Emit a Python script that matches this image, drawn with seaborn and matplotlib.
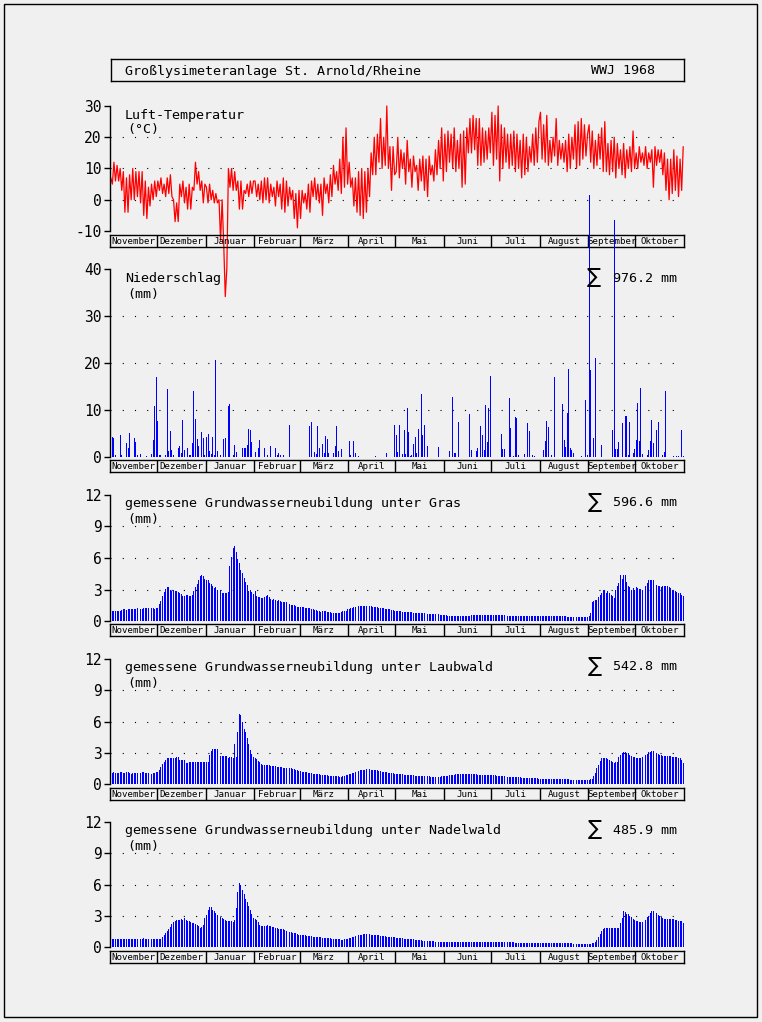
import numpy as np
import matplotlib.pyplot as plt
import seaborn as sns
from matplotlib.patches import Rectangle

# ---- data (Wasserwirtschaftsjahr Nov 1967 - Okt 1968, daily) ----
month_names = ["November", "Dezember", "Januar", "Februar", "März", "April",
               "Mai", "Juni", "Juli", "August", "September", "Oktober"]
month_len = [30, 31, 31, 29, 31, 30, 31, 30, 31, 31, 30, 31]

temp_c = [
    7, 5, 12, 6, 11, 6, 10, 3, 9, -4, 7, -4, 8, 0, 10, 0, 9, 1, 9, -1, 9, -5, 6, -6, 4, -2, 5, 0, 6, 1,
    6, 3, 7, 2, 5, 1, 7, 2, 8, 1, 0, -7, -1, -7, 5, 1, 6, -1, 4, -3, 5, -3, 4, 3, 12, 5, 9, 3, 6, -1, 5,
    4, -1, 5, 0, 3, -1, 2, -1, 0, -13, 0, -14, -31, -22, 10, 4, 10, 3, 9, 3, 6, -3, 6, -3, 3, 2, 5, 1, 6, 2, 6,
    6, 1, 5, 0, 6, -1, 7, 0, 7, -1, 5, 1, 4, -2, 6, 1, 5, -3, 7, -4, 6, -2, 4, 0, 3, -6, 2, -9, 3,
    -6, 3, -1, 2, -3, 5, -4, 6, 1, 7, 0, 5, -1, 5, -5, 7, 2, 5, -1, 8, 1, 11, 5, 9, 3, 13, 2, 20, 4, 23, 5,
    12, 4, 7, -2, 7, -4, 9, -5, 10, -6, 9, -4, 10, 1, 15, 8, 20, 8, 21, 12, 26, 10, 20, 11, 30, 10, 17, 3, 17, 8,
    9, 20, 7, 16, 10, 15, 5, 19, 9, 13, 4, 14, 9, 11, 3, 13, 6, 14, 3, 13, 1, 14, 8, 11, 6, 16, 8, 19, 10, 23, 6,
    21, 9, 22, 12, 21, 10, 23, 9, 19, 10, 21, 4, 22, 5, 23, 15, 26, 15, 27, 16, 26, 11, 26, 11, 23, 12, 22, 13, 23, 15,
    28, 11, 27, 13, 30, 6, 24, 10, 23, 12, 21, 10, 21, 11, 22, 9, 21, 10, 19, 7, 21, 8, 20, 9, 17, 12, 21, 11, 23, 12, 25,
    28, 13, 24, 12, 27, 11, 19, 12, 20, 14, 26, 11, 19, 13, 18, 12, 19, 9, 21, 10, 20, 13, 24, 10, 25, 11, 26, 13, 24, 14, 21,
    24, 12, 22, 10, 19, 11, 21, 13, 23, 9, 25, 9, 18, 8, 19, 9, 20, 7, 18, 10, 16, 8, 18, 7, 16, 10, 17, 9, 22, 10,
    15, 10, 17, 12, 15, 11, 17, 10, 15, 12, 16, 4, 17, 11, 16, 12, 16, 8, 15, 3, 13, 0, 13, 2, 16, 3, 14, 1, 13, 3, 17,
]

rain_day = [1, 2, 3, 6, 7, 10, 11, 12, 15, 16, 17, 19, 23, 26, 27, 28, 29, 30, 31, 32,
            35, 36, 37, 38, 39, 40, 43, 44, 45, 46, 47, 49, 50, 51, 52, 53, 54, 55, 56, 58,
            59, 60, 61, 62, 63, 64, 65, 66, 67, 68, 70, 72, 73, 75, 76, 78, 79, 80, 84, 85,
            86, 87, 88, 89, 90, 92, 94, 95, 98, 100, 102, 105, 106, 107, 108, 110, 114, 127, 128, 130,
            131, 132, 133, 135, 136, 137, 138, 139, 142, 143, 144, 145, 147, 152, 153, 155, 156, 158, 169, 176,
            181, 182, 183, 184, 186, 187, 188, 189, 190, 191, 192, 193, 194, 195, 196, 198, 199, 200, 201, 202,
            209, 216, 218, 219, 220, 222, 229, 230, 233, 234, 236, 237, 238, 239, 240, 241, 242, 249, 250, 251,
            252, 254, 255, 257, 258, 259, 260, 264, 266, 267, 269, 270, 276, 277, 278, 279, 281, 283, 288, 289,
            290, 291, 292, 293, 294, 295, 300, 303, 304, 305, 306, 308, 309, 313, 320, 321, 322, 323, 324, 326,
            328, 329, 330, 331, 333, 334, 335, 336, 337, 338, 339, 340, 342, 343, 344, 345, 346, 347, 348, 349,
            352, 353, 354, 359, 361, 362, 364, 365]
rain_mm = [4.3, 4.1, 0.4, 4.6, 0.4, 3.0, 1.9, 5.0, 4.0, 3.2, 0.4, 0.6, 0.3, 0.6, 3.6, 10.8, 17.1, 7.6, 0.4, 0.4,
           0.5, 14.5, 1.2, 5.5, 1.4, 0.4, 2.0, 2.3, 0.9, 7.8, 1.4, 1.9, 0.4, 0.4, 3.0, 14.0, 8.0, 3.8, 2.3, 5.3,
           4.0, 0.4, 4.3, 4.9, 1.2, 0.7, 4.3, 0.4, 20.6, 1.2, 0.4, 3.8, 4.0, 10.9, 11.2, 0.4, 2.5, 1.0, 1.9, 1.9,
           1.9, 2.5, 6.0, 5.7, 3.2, 1.0, 1.9, 3.6, 2.0, 0.4, 2.3, 2.0, 0.4, 0.8, 0.4, 0.4, 6.8, 6.6, 7.4, 1.0,
           0.7, 6.6, 1.9, 2.8, 0.9, 4.5, 3.8, 0.9, 0.9, 2.3, 6.6, 1.2, 1.7, 3.3, 0.4, 3.3, 0.9, 0.2, 0.2, 0.9,
           6.8, 4.6, 1.1, 6.8, 0.6, 5.7, 0.6, 10.5, 5.3, 0.2, 0.4, 2.7, 4.3, 0.9, 5.9, 13.4, 4.6, 6.8, 3.3, 2.3,
           2.1, 1.2, 12.8, 0.9, 0.9, 7.4, 9.1, 1.4, 1.2, 1.9, 6.5, 4.6, 1.4, 11.0, 3.2, 10.5, 17.2, 4.8, 1.7, 1.7,
           2.1, 12.5, 6.1, 0.2, 8.5, 8.3, 0.4, 0.6, 7.2, 5.5, 0.4, 0.2, 1.4, 3.3, 7.6, 6.3, 0.4, 17.0, 11.2, 3.6,
           2.1, 9.3, 18.7, 1.9, 1.4, 0.9, 0.2, 12.1, 0.4, 55.7, 18.5, 4.1, 21.1, 2.5, 5.7, 50.4, 1.8, 1.8, 3.2, 7.2,
           8.8, 8.8, 0.4, 7.4, 0.9, 1.8, 3.6, 11.5, 3.3, 14.7, 0.7, 0.6, 0.4, 1.4, 3.3, 7.8, 3.0, 2.5, 5.7, 7.5,
           0.4, 1.1, 14.0, 0.2, 0.2, 0.2, 5.7, 0.2]

gw_gras = [
    0.9, 0.95, 0.95, 1.0, 0.95, 0.95, 1.0, 1.05, 1.1, 1.1, 1.05, 1.1, 1.1, 1.15, 1.1, 1.1, 1.15, 1.2, 1.15, 1.1,
    1.15, 1.2, 1.2, 1.2, 1.2, 1.2, 1.2, 1.2, 1.15, 1.2,
    1.2, 1.6, 1.9, 2.4, 2.8, 3.05, 3.25, 3.25, 3.0, 2.9, 3.0, 2.9, 2.9, 2.8, 2.65, 2.6, 2.4, 2.4, 2.5, 2.5,
    2.4, 2.4, 2.5, 2.9, 3.2, 3.5, 3.9, 4.3, 4.35, 4.3, 4.0,
    3.95, 3.9, 3.65, 3.5, 3.3, 3.1, 3.2, 3.0, 2.8, 3.0, 2.65, 2.65, 2.7, 2.7, 2.75, 5.2, 6.1, 7.0, 7.1, 6.6,
    5.9, 5.55, 4.85, 4.6, 4.1, 3.75, 3.45, 2.9, 3.0, 2.8, 2.6,
    2.85, 2.4, 2.3, 2.25, 2.2, 2.2, 2.25, 2.35, 2.5, 2.25, 2.1, 2.0, 2.05, 2.0, 1.95, 2.0, 1.95, 1.8, 1.8, 1.85,
    1.8, 1.65, 1.65, 1.55, 1.55, 1.5, 1.4, 1.35, 1.35,
    1.35, 1.3, 1.3, 1.25, 1.25, 1.2, 1.2, 1.15, 1.1, 1.05, 1.05, 1.0, 0.95, 0.9, 0.95, 0.95, 0.95, 0.9, 0.85, 0.85,
    0.8, 0.8, 0.8, 0.8, 0.8, 0.8, 0.85, 0.95, 1.0, 1.0, 1.1,
    1.15, 1.2, 1.25, 1.3, 1.3, 1.35, 1.4, 1.4, 1.45, 1.45, 1.45, 1.45, 1.4, 1.4, 1.4, 1.35, 1.35, 1.3, 1.3, 1.25,
    1.25, 1.2, 1.2, 1.15, 1.15, 1.1, 1.1, 1.05, 1.05, 1.0,
    1.0, 0.95, 0.95, 0.95, 0.9, 0.9, 0.9, 0.85, 0.85, 0.85, 0.85, 0.8, 0.8, 0.8, 0.8, 0.75, 0.75, 0.75, 0.75, 0.7,
    0.7, 0.7, 0.7, 0.7, 0.65, 0.65, 0.65, 0.65, 0.6, 0.6, 0.6,
    0.55, 0.55, 0.5, 0.5, 0.5, 0.5, 0.5, 0.5, 0.5, 0.5, 0.5, 0.5, 0.5, 0.5, 0.5, 0.5, 0.5, 0.55, 0.6, 0.6,
    0.6, 0.6, 0.6, 0.6, 0.55, 0.55, 0.55, 0.55, 0.55, 0.55,
    0.55, 0.55, 0.55, 0.55, 0.55, 0.55, 0.55, 0.55, 0.55, 0.55, 0.5, 0.5, 0.5, 0.5, 0.5, 0.5, 0.5, 0.5, 0.5, 0.5,
    0.5, 0.5, 0.5, 0.5, 0.5, 0.5, 0.5, 0.5, 0.5, 0.5, 0.5,
    0.5, 0.5, 0.5, 0.5, 0.5, 0.45, 0.45, 0.45, 0.45, 0.45, 0.45, 0.45, 0.45, 0.45, 0.45, 0.45, 0.45, 0.4, 0.4, 0.4,
    0.4, 0.4, 0.4, 0.4, 0.4, 0.4, 0.4, 0.35, 0.35, 0.35, 0.35,
    0.5, 0.8, 1.8, 1.9, 2.0, 2.0, 2.25, 2.5, 2.65, 3.0, 3.0, 2.65, 2.85, 2.65, 2.5, 2.4, 2.2, 3.0, 3.3, 3.6,
    4.35, 4.0, 4.4, 4.35, 3.75, 3.3, 3.2, 3.0, 3.1, 3.0,
    3.2, 3.1, 3.05, 3.05, 3.0, 3.05, 3.3, 3.6, 3.9, 3.95, 3.9, 3.95, 3.75, 3.45, 3.35, 3.3, 3.2, 3.3, 3.3, 3.3,
    3.3, 3.2, 3.1, 3.0, 2.85, 2.85, 2.8, 2.65, 2.7, 2.5, 2.35,
]

gw_laub = [
    1.05, 1.1, 1.15, 1.1, 1.1, 1.1, 1.15, 1.15, 1.1, 1.1, 1.15, 1.15, 1.1, 1.0, 1.05, 1.1, 1.1, 1.05, 1.1, 1.1,
    1.15, 1.15, 1.1, 1.1, 1.05, 1.05, 1.0, 1.05, 1.1, 1.2,
    1.2, 1.35, 1.6, 1.9, 2.15, 2.35, 2.45, 2.45, 2.5, 2.45, 2.45, 2.45, 2.55, 2.6, 2.3, 2.3, 2.3, 2.3, 2.05, 2.05,
    2.1, 2.15, 2.15, 2.15, 2.15, 2.15, 2.15, 2.15, 2.15, 2.15, 2.15,
    2.15, 2.15, 2.8, 3.2, 3.35, 3.4, 3.4, 3.4, 3.05, 2.7, 2.7, 2.65, 2.65, 2.7, 2.45, 2.55, 2.55, 2.5, 3.85, 2.55,
    4.95, 6.75, 6.65, 5.95, 5.3, 4.95, 4.4, 3.85, 3.3, 2.9, 2.55,
    2.45, 2.4, 2.25, 2.1, 1.95, 1.85, 1.8, 1.8, 1.8, 1.8, 1.75, 1.75, 1.7, 1.7, 1.65, 1.6, 1.65, 1.6, 1.55, 1.55,
    1.5, 1.5, 1.5, 1.5, 1.45, 1.4, 1.3, 1.3, 1.25,
    1.25, 1.2, 1.2, 1.15, 1.15, 1.1, 1.05, 1.05, 1.0, 1.0, 0.95, 0.95, 0.95, 0.9, 0.9, 0.9, 0.85, 0.85, 0.8, 0.8,
    0.8, 0.75, 0.75, 0.75, 0.75, 0.7, 0.7, 0.75, 0.8, 0.85, 0.9,
    0.95, 1.0, 1.05, 1.1, 1.15, 1.2, 1.25, 1.3, 1.3, 1.35, 1.35, 1.4, 1.4, 1.4, 1.35, 1.35, 1.3, 1.3, 1.3, 1.25,
    1.25, 1.2, 1.2, 1.15, 1.15, 1.1, 1.1, 1.05, 1.05, 1.0,
    1.0, 1.0, 0.95, 0.95, 0.95, 0.9, 0.9, 0.9, 0.85, 0.85, 0.85, 0.85, 0.8, 0.8, 0.8, 0.8, 0.75, 0.75, 0.75, 0.75,
    0.75, 0.75, 0.7, 0.7, 0.7, 0.7, 0.7, 0.7, 0.7, 0.75, 0.75,
    0.75, 0.8, 0.8, 0.85, 0.85, 0.9, 0.9, 0.95, 0.95, 1.0, 1.0, 1.0, 1.0, 1.0, 1.0, 1.0, 0.95, 0.95, 0.95, 0.95,
    0.95, 0.9, 0.9, 0.9, 0.9, 0.9, 0.9, 0.85, 0.85, 0.85,
    0.85, 0.85, 0.85, 0.8, 0.8, 0.8, 0.8, 0.75, 0.75, 0.75, 0.7, 0.7, 0.7, 0.65, 0.7, 0.7, 0.65, 0.65, 0.65, 0.6,
    0.6, 0.6, 0.6, 0.55, 0.55, 0.55, 0.55, 0.55, 0.55, 0.55, 0.5,
    0.5, 0.5, 0.5, 0.5, 0.5, 0.5, 0.5, 0.5, 0.5, 0.45, 0.45, 0.45, 0.45, 0.45, 0.45, 0.45, 0.45, 0.45, 0.45, 0.35,
    0.35, 0.35, 0.35, 0.35, 0.35, 0.35, 0.35, 0.35, 0.35, 0.35, 0.4,
    0.4, 0.45, 0.5, 0.8, 1.1, 1.5, 1.8, 2.2, 2.5, 2.5, 2.45, 2.45, 2.4, 2.3, 2.2, 2.1, 2.05, 2.1, 2.15, 2.6,
    2.8, 3.0, 3.1, 3.05, 3.0, 2.95, 2.8, 2.65, 2.6, 2.55,
    2.5, 2.45, 2.45, 2.5, 2.55, 2.6, 2.8, 2.9, 3.05, 3.1, 3.2, 3.15, 3.05, 3.0, 2.9, 2.8, 2.75, 2.7, 2.7, 2.65,
    2.7, 2.65, 2.65, 2.6, 2.6, 2.6, 2.55, 2.5, 2.45, 2.3, 2.05,
]

gw_nadel = [
    0.75, 0.75, 0.75, 0.75, 0.8, 0.8, 0.75, 0.8, 0.8, 0.8, 0.8, 0.8, 0.8, 0.75, 0.8, 0.8, 0.8, 0.75, 0.8, 0.8,
    0.75, 0.85, 0.8, 0.8, 0.8, 0.75, 0.75, 0.8, 0.75, 0.75,
    0.8, 0.8, 0.8, 1.0, 1.15, 1.3, 1.5, 1.7, 1.9, 2.2, 2.4, 2.5, 2.55, 2.55, 2.6, 2.65, 2.55, 2.75, 2.55, 2.5,
    2.45, 2.4, 2.35, 2.3, 2.25, 2.1, 2.0, 1.85, 1.95, 2.15, 2.75,
    3.1, 3.6, 3.85, 3.8, 3.6, 3.45, 3.3, 3.1, 3.0, 2.85, 2.8, 2.65, 2.55, 2.5, 2.5, 2.5, 2.45, 2.4, 2.55, 3.7,
    5.3, 6.1, 5.95, 5.45, 5.1, 4.6, 4.35, 3.95, 3.6, 3.2, 2.8,
    2.65, 2.55, 2.4, 2.15, 2.0, 2.0, 2.05, 2.0, 2.1, 2.05, 2.0, 1.95, 1.9, 1.85, 1.8, 1.75, 1.75, 1.7, 1.7, 1.6,
    1.55, 1.5, 1.45, 1.4, 1.35, 1.35, 1.3, 1.25, 1.2,
    1.2, 1.2, 1.15, 1.15, 1.1, 1.1, 1.05, 1.05, 1.0, 1.0, 1.0, 0.95, 0.95, 0.95, 0.9, 0.9, 0.9, 0.85, 0.85, 0.85,
    0.8, 0.8, 0.8, 0.75, 0.75, 0.75, 0.7, 0.7, 0.75, 0.75, 0.8,
    0.85, 0.9, 0.95, 1.0, 1.05, 1.1, 1.15, 1.2, 1.2, 1.25, 1.25, 1.25, 1.25, 1.25, 1.2, 1.2, 1.2, 1.15, 1.15, 1.15,
    1.1, 1.1, 1.05, 1.05, 1.0, 1.0, 1.0, 0.95, 0.95, 0.95,
    0.9, 0.9, 0.85, 0.85, 0.85, 0.8, 0.8, 0.8, 0.75, 0.75, 0.75, 0.75, 0.7, 0.7, 0.7, 0.65, 0.65, 0.6, 0.6, 0.6,
    0.6, 0.55, 0.55, 0.55, 0.55, 0.5, 0.5, 0.5, 0.5, 0.5, 0.5,
    0.5, 0.5, 0.45, 0.45, 0.45, 0.45, 0.45, 0.45, 0.45, 0.45, 0.45, 0.45, 0.45, 0.45, 0.45, 0.45, 0.45, 0.45, 0.45, 0.45,
    0.45, 0.45, 0.45, 0.45, 0.45, 0.45, 0.45, 0.45, 0.45, 0.45,
    0.45, 0.45, 0.45, 0.45, 0.45, 0.45, 0.45, 0.45, 0.45, 0.45, 0.45, 0.45, 0.45, 0.45, 0.45, 0.4, 0.4, 0.4, 0.4, 0.4,
    0.4, 0.4, 0.4, 0.4, 0.4, 0.4, 0.4, 0.4, 0.4, 0.4, 0.4,
    0.4, 0.4, 0.4, 0.4, 0.4, 0.4, 0.4, 0.4, 0.4, 0.4, 0.35, 0.35, 0.35, 0.35, 0.35, 0.35, 0.35, 0.35, 0.35, 0.35,
    0.35, 0.3, 0.3, 0.3, 0.3, 0.3, 0.3, 0.3, 0.3, 0.3, 0.3,
    0.3, 0.3, 0.35, 0.35, 0.45, 0.65, 0.95, 1.25, 1.55, 1.75, 1.85, 1.85, 1.85, 1.85, 1.8, 1.8, 1.8, 1.8, 1.8, 1.85,
    2.3, 2.75, 3.5, 3.35, 3.2, 3.15, 3.0, 2.85, 2.7, 2.6,
    2.5, 2.45, 2.4, 2.4, 2.4, 2.45, 2.6, 2.85, 3.0, 3.25, 3.45, 3.5, 3.35, 3.3, 3.1, 2.95, 2.85, 2.75, 2.7, 2.65,
    2.7, 2.7, 2.7, 2.7, 2.65, 2.6, 2.55, 2.5, 2.5, 2.45, 2.3,
]

sums = {"rain": "976.2", "gras": "596.6", "laub": "542.8", "nadel": "485.9"}

# ---- styling ----
BG = "#f0f0f0"
sns.set_theme(style="white")
plt.rcParams["font.family"] = ["DejaVu Sans Mono", "DejaVu Sans"]
plt.rcParams["text.color"] = "black"
plt.rcParams["axes.unicode_minus"] = False

W, H = 762, 1022
fig = plt.figure(figsize=(W / 100, H / 100), dpi=100, facecolor=BG)


def px_box(x0, y0, x1, y1):
    return [x0 / W, 1 - y1 / H, (x1 - x0) / W, (y1 - y0) / H]


def px_text(x, y, s, **kw):
    fig.text(x / W, 1 - y / H, s, va="center", ha="left", **kw)


days = np.arange(366) + 0.5
edges = np.concatenate([[0], np.cumsum(month_len)])


def month_strip(y0, y1):
    ax = fig.add_axes(px_box(110, y0, 684, y1))
    ax.set_facecolor("none")
    ax.set_xlim(0, 366)
    ax.set_ylim(0, 1)
    ax.set_xticks([])
    ax.set_yticks([])
    for s in ax.spines.values():
        s.set_visible(True)
        s.set_color("black")
        s.set_linewidth(1)
    for e in edges[1:-1]:
        ax.axvline(e, color="black", lw=1)
    for i, name in enumerate(month_names):
        ax.text((edges[i] + edges[i + 1]) / 2, 0.45, name, ha="center", va="center", fontsize=6.6)


def panel(y0, y1):
    ax = fig.add_axes(px_box(110, y0, 684, y1))
    ax.set_facecolor("none")
    return ax


def finish(ax, ylim, ticks, grid):
    ax.set_xlim(0, 366)
    ax.set_ylim(*ylim)
    ax.set_xticks([])
    ax.set_yticks(ticks)
    ax.set_xlabel("")
    ax.set_ylabel("")
    for side in ["top", "right", "bottom"]:
        ax.spines[side].set_visible(False)
    ax.spines["left"].set_color("black")
    ax.spines["left"].set_linewidth(1)
    ax.tick_params(axis="y", direction="out", length=4, width=1, pad=2,
                   labelsize=10.5, colors="black", left=True)
    for g in grid:
        ax.axhline(g, color="black", lw=0.8, ls=(0, (1, 10)), zorder=0)


# title box
tax = fig.add_axes(px_box(111, 59, 684, 81))
tax.set_facecolor("none")
tax.set_xticks([])
tax.set_yticks([])
for s in tax.spines.values():
    s.set_visible(True)
    s.set_color("black")
    s.set_linewidth(1)
px_text(125, 71, "Großlysimeteranlage St. Arnold/Rheine", fontsize=9.6)
px_text(591, 71, "WWJ 1968", fontsize=9.6)

# panel 1: temperature
ax1 = panel(106, 231)
sns.lineplot(x=days, y=temp_c, color="red", linewidth=0.9, ax=ax1)
ax1.get_lines()[-1].set_clip_on(False)
finish(ax1, (-10, 30), [-10, 0, 10, 20, 30], [0, 10, 20])
month_strip(235, 247)
px_text(125, 115, "Luft-Temperatur", fontsize=9.6)
px_text(127, 130, "(°C)", fontsize=9.6)

# panel 2: precipitation
ax2 = panel(269, 457)
ax2.bar(np.array(rain_day) + 0.5, rain_mm, width=0.62, color="blue", linewidth=0,
        clip_on=False, antialiased=False)
finish(ax2, (0, 40), [0, 10, 20, 30, 40], [10, 20, 30])
month_strip(460, 472)
px_text(125, 278, "Niederschlag", fontsize=9.6)
px_text(127, 294, "(mm)", fontsize=9.6)
px_text(587, 277, "∑", fontsize=15, family="DejaVu Sans")
px_text(613, 278, sums["rain"] + " mm", fontsize=9.6)

# panels 3-5: groundwater recharge
gw_panels = [
    (gw_gras, "Gras", sums["gras"], 495, 621, 624, 636),
    (gw_laub, "Laubwald", sums["laub"], 659, 784, 788, 800),
    (gw_nadel, "Nadelwald", sums["nadel"], 822, 947, 951, 963),
]
for vals, label, total, y0, y1, s0, s1 in gw_panels:
    ax = panel(y0, y1)
    sns.barplot(x=days, y=vals, native_scale=True, color="blue", saturation=1,
                errorbar=None, width=0.62, linewidth=0, ax=ax)
    for p in ax.patches:
        p.set_antialiased(False)
    finish(ax, (0, 12), [0, 3, 6, 9, 12], [3, 6, 9])
    month_strip(s0, s1)
    px_text(125, y0 + 8, "gemessene Grundwasserneubildung unter " + label, fontsize=9.6)
    px_text(127, y0 + 24, "(mm)", fontsize=9.6)
    px_text(588, y0 + 7, "∑", fontsize=15, family="DejaVu Sans")
    px_text(613, y0 + 8, total + " mm", fontsize=9.6)

# outer frame
fig.add_artist(Rectangle((4 / W, 1 - 1017 / H), 753 / W, 1013 / H, transform=fig.transFigure,
                         fill=False, edgecolor="black", linewidth=1))

fig.savefig("out.png", dpi=100, facecolor=BG)
